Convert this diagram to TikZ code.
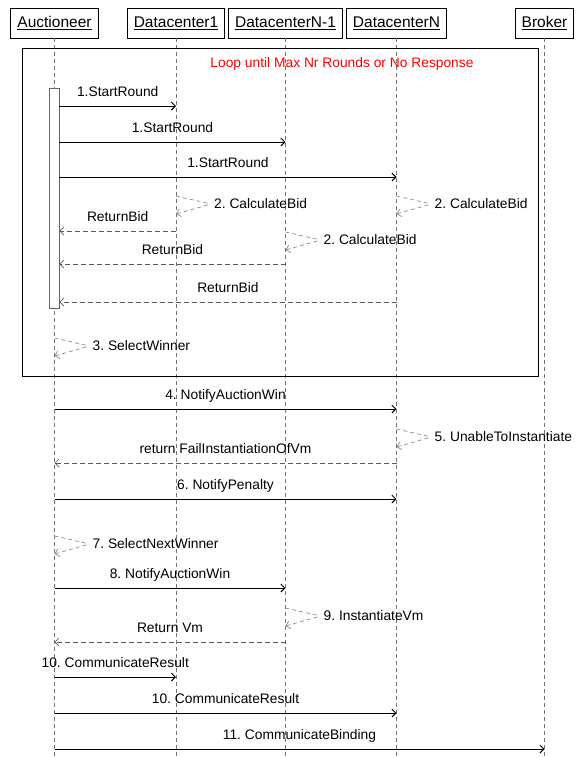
\documentclass[tikz,border=0pt]{standalone}
\usepackage{fontspec}
\setmainfont{Liberation Sans}
\usetikzlibrary{arrows.meta}
\frenchspacing

\begin{document}
\begin{tikzpicture}[x=1pt,y=-1pt,
    >={Straight Barb[length=4pt,width=8pt]},
    head/.style={draw,line width=0.9pt,inner xsep=6.5pt,minimum height=30pt,font=\fontsize{15.5}{18}\selectfont},
    life/.style={draw=black!55,dash pattern=on 4pt off 3pt,line width=0.6pt},
    call/.style={->,line width=0.9pt},
    reply/.style={->,draw=black!65,dash pattern=on 5pt off 3pt,line width=0.7pt},
    self/.style={->,draw=black!45,dash pattern=on 4pt off 3pt,line width=0.7pt,rounded corners=4pt},
    lbl/.style={font=\fontsize{13.8}{16}\selectfont,anchor=base,yshift=10pt},
    slbl/.style={font=\fontsize{13.8}{16}\selectfont,anchor=west,inner sep=3pt}]
  \useasboundingbox (0,0) rectangle (584,758);
  % lifelines
  \node[head] (auc) at (54.5,23) {\underline{Auctioneer}};
  \node[head] (dc1) at (176,23) {\underline{Datacenter1}};
  \node[head] (dcn1) at (285.5,23) {\underline{DatacenterN-1}};
  \node[head] (dcn) at (396.5,23) {\underline{DatacenterN}};
  \node[head] (brk) at (544.5,23) {\underline{Broker}};
  \coordinate (bot) at (0,758);
  \foreach \p in {auc,dc1,dcn1,dcn,brk}
    \draw[life] (\p.south) -- (\p.south |- bot);
  % loop frame
  \draw[line width=1pt] (22,48) rectangle (538,376);
  \node[text=red,font=\fontsize{13.8}{16}\selectfont] (loop) at (342,64) {Loop until Max Nr Rounds or No Response};
  \node[draw=black!60,fill=white,line width=0.8pt,inner sep=0pt,minimum width=10pt,minimum height=220pt] (act) at (54,198) {};
  % round of bids
  \draw[call] (act.east |- 0,106) -- (dc1 |- 0,106) node[lbl,midway] {1.StartRound};
  \draw[call] (act.east |- 0,142) -- (dcn1 |- 0,142) node[lbl,midway] {1.StartRound};
  \draw[call] (act.east |- 0,177) -- (dcn |- 0,177) node[lbl,midway] {1.StartRound};
  \draw[self] (dc1 |- 0,196) -- ++(35,8) coordinate (s1) -- (dc1 |- 0,214);
  \node[slbl] at (s1) {2. CalculateBid};
  \draw[self] (dcn |- 0,196) -- ++(35,8) coordinate (s2) -- (dcn |- 0,214);
  \node[slbl] at (s2) {2. CalculateBid};
  \draw[reply] (dc1 |- 0,231) -- (act.east |- 0,231) node[lbl,midway] {ReturnBid};
  \draw[self] (dcn1 |- 0,232) -- ++(35,8) coordinate (s3) -- (dcn1 |- 0,250);
  \node[slbl] at (s3) {2. CalculateBid};
  \draw[reply] (dcn1 |- 0,264) -- (act.east |- 0,264) node[lbl,midway] {ReturnBid};
  \draw[reply] (dcn |- 0,302) -- (act.east |- 0,302) node[lbl,midway] {ReturnBid};
  \draw[self] (auc |- 0,338) -- ++(35,8) coordinate (s4) -- (auc |- 0,356);
  \node[slbl] at (s4) {3. SelectWinner};
  % after the loop
  \draw[call] (auc |- 0,409) -- (dcn |- 0,409) node[lbl,midway] {4. NotifyAuctionWin};
  \draw[self] (dcn |- 0,429) -- ++(35,8) coordinate (s5) -- (dcn |- 0,447);
  \node[slbl] at (s5) {5. UnableToInstantiate};
  \draw[reply] (dcn |- 0,463) -- (auc |- 0,463) node[lbl,midway] {return FailInstantiationOfVm};
  \draw[call] (auc |- 0,499) -- (dcn |- 0,499) node[lbl,midway] {6. NotifyPenalty};
  \draw[self] (auc |- 0,536) -- ++(35,8) coordinate (s6) -- (auc |- 0,554);
  \node[slbl] at (s6) {7. SelectNextWinner};
  \draw[call] (auc |- 0,588) -- (dcn1 |- 0,588) node[lbl,midway] {8. NotifyAuctionWin};
  \draw[self] (dcn1 |- 0,608) -- ++(35,8) coordinate (s7) -- (dcn1 |- 0,626);
  \node[slbl] at (s7) {9. InstantiateVm};
  \draw[reply] (dcn1 |- 0,642) -- (auc |- 0,642) node[lbl,midway] {Return Vm};
  \draw[call] (auc |- 0,677) -- (dc1 |- 0,677) node[lbl,midway] {10. CommunicateResult};
  \draw[call] (auc |- 0,713) -- (dcn |- 0,713) node[lbl,midway] {10. CommunicateResult};
  \draw[call] (auc |- 0,749) -- (brk |- 0,749) node[lbl,midway] {11. CommunicateBinding};
\end{tikzpicture}
\end{document}
